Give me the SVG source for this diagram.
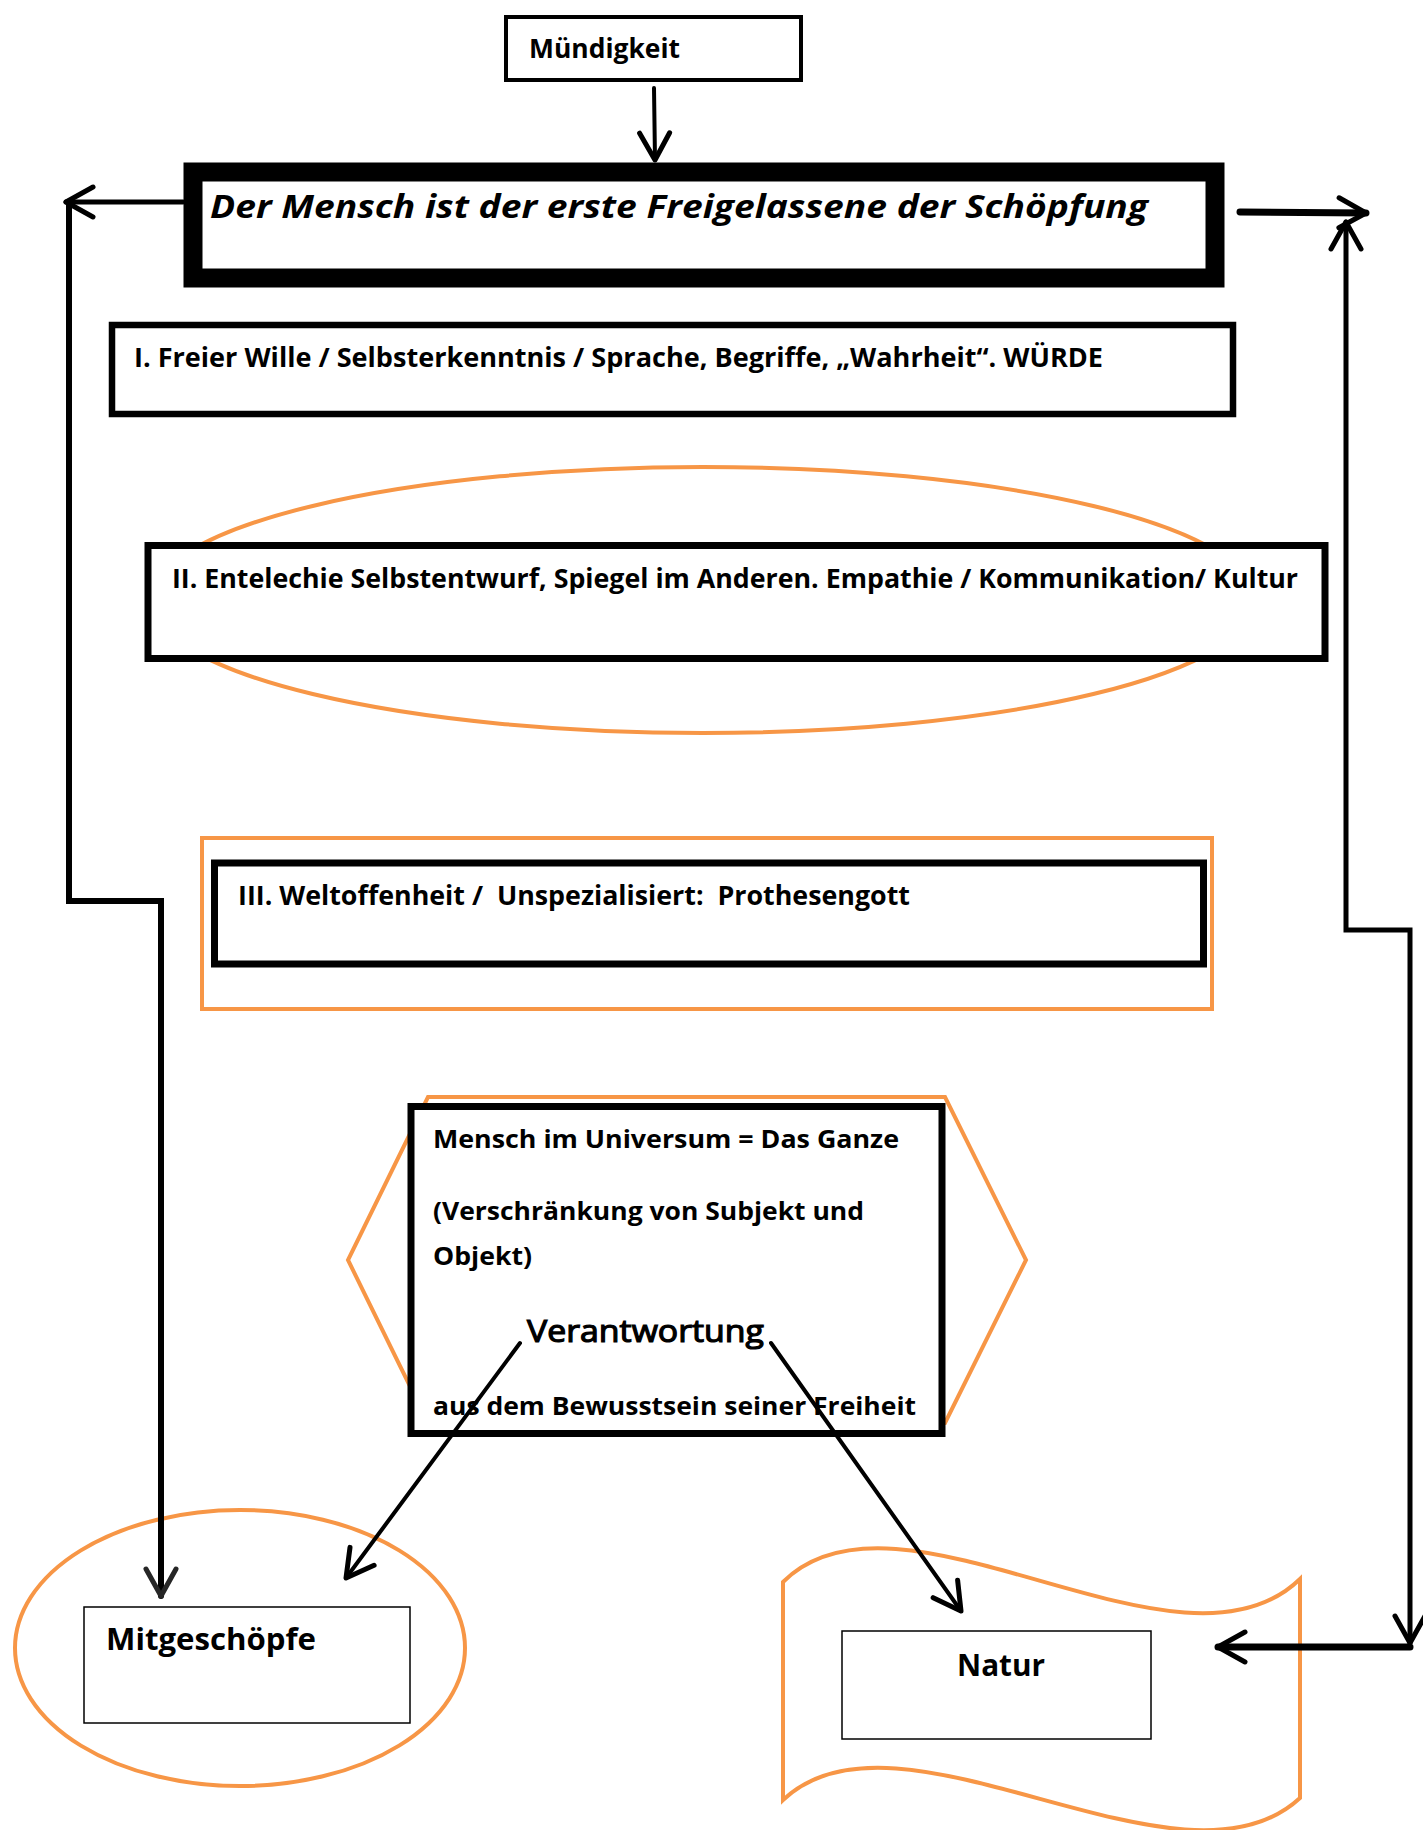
<svg xmlns="http://www.w3.org/2000/svg" width="1423" height="1830" viewBox="0 0 1423 1830">
<style>
.t{font-family:"Open Sans","Liberation Sans",sans-serif;font-weight:700;fill:#000;white-space:pre}
.m{font-weight:400;stroke:#000;stroke-width:1.2}
.box{fill:#fff;stroke:#000}
.or{fill:none;stroke:#F79646;stroke-width:4}
.ln{fill:none;stroke:#000;stroke-linecap:round;stroke-linejoin:miter}
</style>
<defs>
<marker id="ah" markerUnits="userSpaceOnUse" orient="auto-start-reverse" overflow="visible" markerWidth="1" markerHeight="1" refX="0" refY="0">
<path d="M-27,-15 L0,0 L-27,15" fill="none" stroke="#000" stroke-width="5" stroke-linecap="round" stroke-linejoin="round"/>
</marker>
<marker id="ahg" markerUnits="userSpaceOnUse" orient="auto-start-reverse" overflow="visible" markerWidth="1" markerHeight="1" refX="0" refY="0">
<path d="M-27,-15 L0,0 L-27,15" fill="none" stroke="#262626" stroke-width="5" stroke-linecap="round" stroke-linejoin="round"/>
</marker>
</defs>
<rect width="1423" height="1830" fill="#fff"/>

<g id="node-ellipse-II">
<ellipse class="or" cx="703" cy="600" rx="552" ry="133"/>
</g>
<g id="node-hexagon">
<polygon class="or" points="428,1097 945,1097 1026,1260 945,1423 428,1423 348,1260"/>
</g>
<g id="node-mitgeschoepfe-ellipse">
<ellipse class="or" cx="240" cy="1648" rx="225" ry="138"/>
</g>
<g id="node-natur-wave">
<path class="or" d="M783,1582 C900,1466 1180,1696 1300,1579 L1300,1798 C1180,1909 900,1689 783,1800 Z"/>
</g>

<g id="node-muendigkeit">
<rect class="box" x="506" y="17" width="295" height="63" stroke-width="4"/>
<text class="t" x="529" y="58" font-size="26" textLength="151" lengthAdjust="spacingAndGlyphs">Mündigkeit</text>
</g>

<g id="node-main">
<rect class="box" x="193" y="172" width="1022" height="106" stroke-width="19"/>
<text class="t" x="210" y="218" font-size="32" font-style="italic" textLength="938" lengthAdjust="spacingAndGlyphs">Der Mensch ist der erste Freigelassene der Schöpfung</text>
</g>

<g id="node-I">
<rect class="box" x="112" y="325" width="1121" height="89" stroke-width="6.5"/>
<text class="t" x="134" y="367" font-size="26" textLength="969" lengthAdjust="spacingAndGlyphs">I. Freier Wille / Selbsterkenntnis / Sprache, Begriffe, „Wahrheit“. WÜRDE</text>
</g>

<g id="node-II">
<rect class="box" x="148" y="545.5" width="1177" height="113" stroke-width="7"/>
<text class="t" x="172" y="588" font-size="26" textLength="1126" lengthAdjust="spacingAndGlyphs">II. Entelechie Selbstentwurf, Spiegel im Anderen. Empathie / Kommunikation/ Kultur</text>
</g>

<g id="node-III">
<rect class="or" x="202" y="838" width="1010" height="171"/>
<rect class="box" x="214.5" y="863" width="989" height="101" stroke-width="7"/>
<text class="t" x="238" y="905" font-size="26" textLength="672" lengthAdjust="spacingAndGlyphs">III. Weltoffenheit /  Unspezialisiert:  Prothesengott</text>
</g>

<g id="node-universum">
<rect class="box" x="411" y="1106.5" width="531" height="327" stroke-width="7"/>
<text class="t" x="433" y="1148" font-size="25" textLength="466" lengthAdjust="spacingAndGlyphs">Mensch im Universum = Das Ganze</text>
<text class="t" x="433" y="1220" font-size="25" textLength="431" lengthAdjust="spacingAndGlyphs">(Verschränkung von Subjekt und</text>
<text class="t" x="433" y="1265" font-size="25" textLength="99" lengthAdjust="spacingAndGlyphs">Objekt)</text>
<text class="t m" x="527" y="1342" font-size="31" textLength="237" lengthAdjust="spacingAndGlyphs">Verantwortung</text>
<text class="t" x="433" y="1415" font-size="25" textLength="483" lengthAdjust="spacingAndGlyphs">aus dem Bewusstsein seiner Freiheit</text>
</g>

<g id="node-mitgeschoepfe">
<rect class="box" x="84" y="1607" width="326" height="116" stroke-width="1.5"/>
<text class="t" x="106" y="1650" font-size="30" textLength="210" lengthAdjust="spacingAndGlyphs">Mitgeschöpfe</text>
</g>

<g id="node-natur">
<rect class="box" x="842" y="1631" width="309" height="108" stroke-width="1.5"/>
<text class="t" x="957" y="1676" font-size="30" textLength="88" lengthAdjust="spacingAndGlyphs">Natur</text>
</g>

<g id="connectors">
<path class="ln" d="M654,88 L655,160" stroke-width="4" marker-end="url(#ah)"/>
<path class="ln" d="M183,202 L66,202" stroke-width="5" marker-end="url(#ah)"/>
<path class="ln" d="M69,204 L69,901 L161,901 L161,1596" stroke="#262626" stroke-width="6" stroke-linecap="butt" marker-end="url(#ahg)"/>
<path class="ln" d="M1240,212 L1366,213" stroke-width="7" stroke-linecap="butt" marker-end="url(#ah)"/>
<path class="ln" d="M1346,222 L1346,930 L1410,930 L1410,1643" stroke-width="5" stroke-linecap="butt" marker-start="url(#ah)" marker-end="url(#ah)"/>
<path class="ln" d="M1410,1647 L1218,1647" stroke-width="7" stroke-linecap="butt" marker-end="url(#ah)"/>
<path class="ln" d="M520,1343 L346,1578" stroke-width="4" marker-end="url(#ah)"/>
<path class="ln" d="M771,1343 L961,1611" stroke-width="4" marker-end="url(#ah)"/>
</g>
</svg>
